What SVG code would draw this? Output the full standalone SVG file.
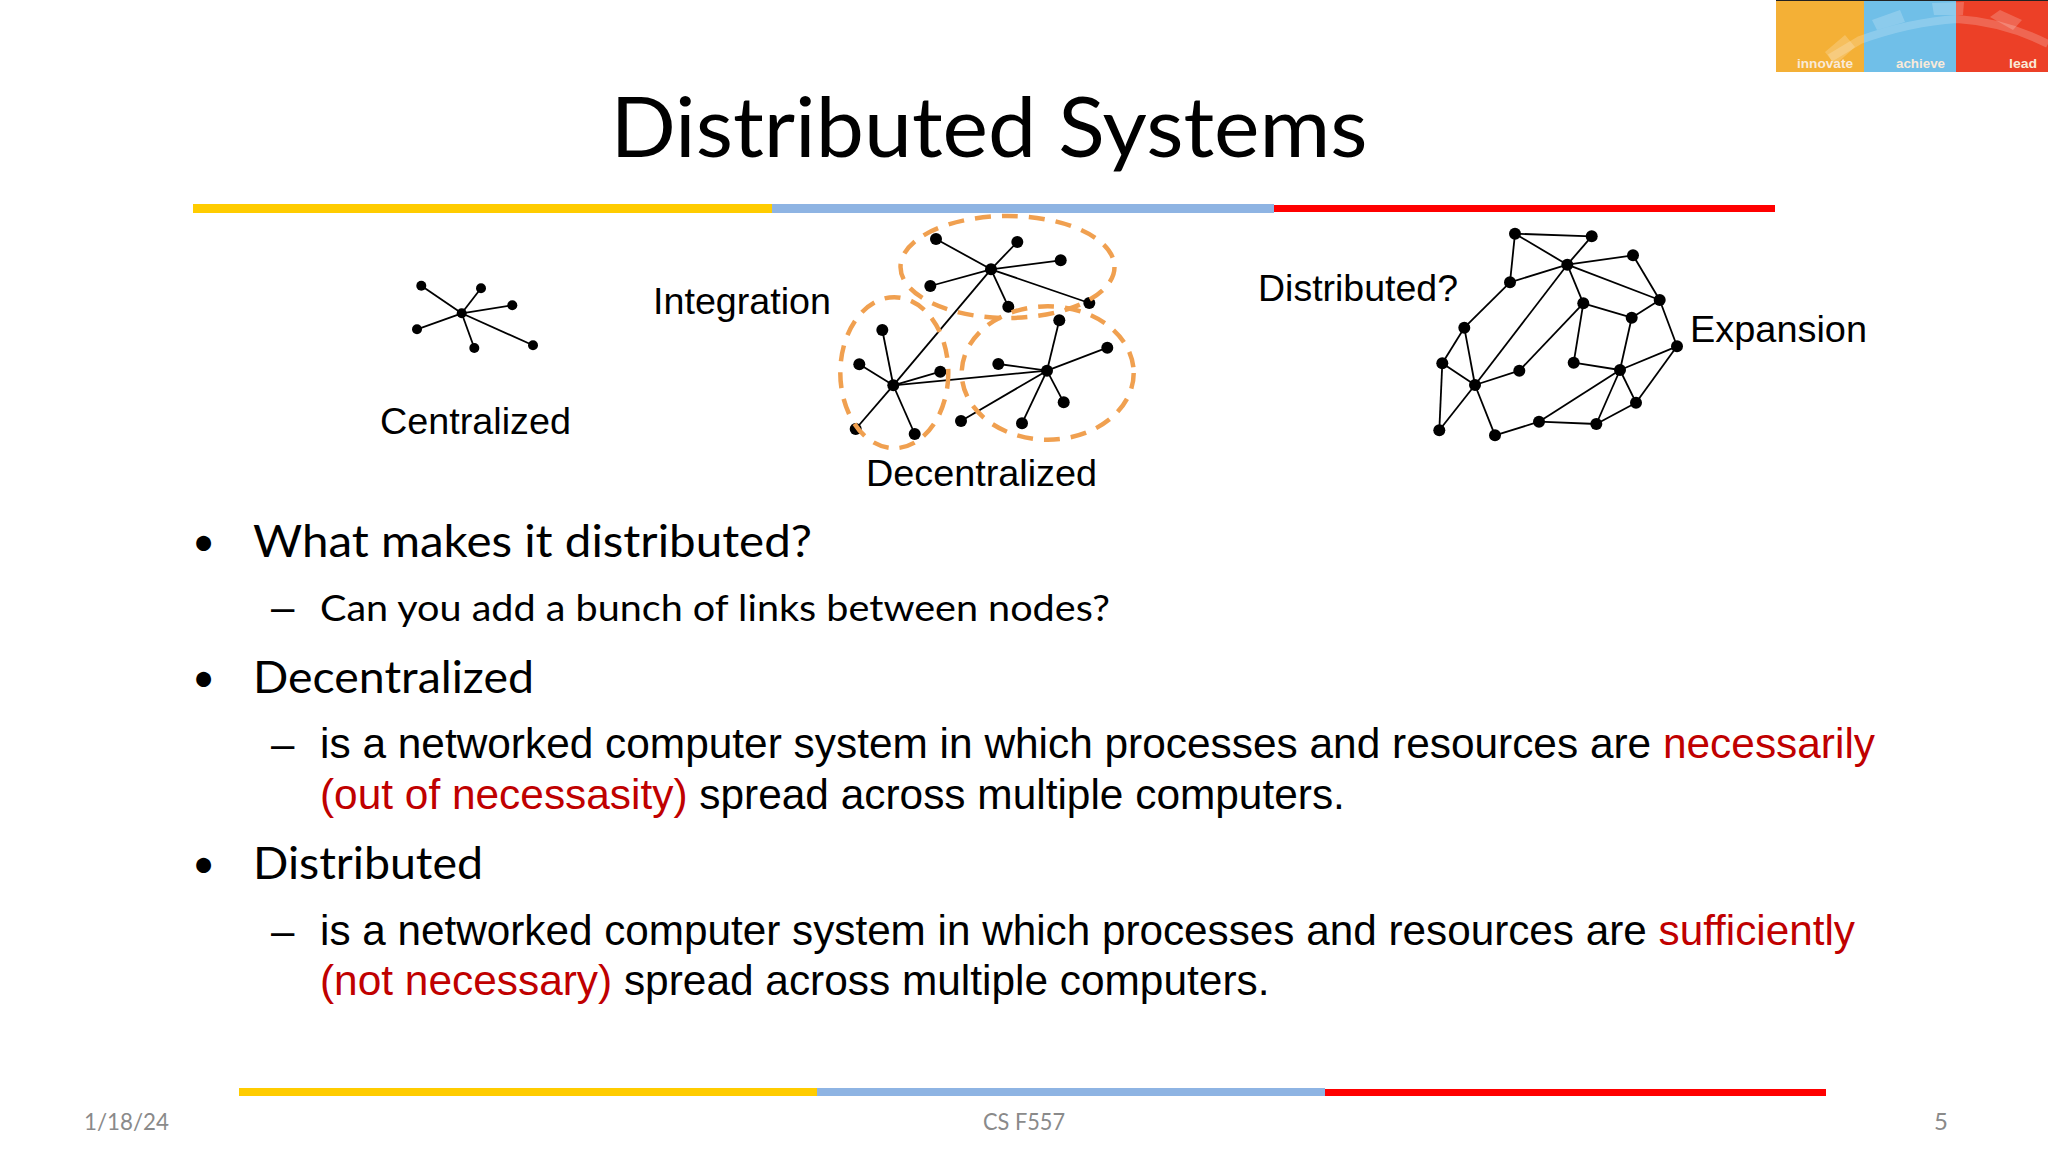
<svg xmlns="http://www.w3.org/2000/svg" width="2048" height="1152" viewBox="0 0 2048 1152">
<style>
.h{font-family:Lato,"Open Sans","Noto Sans",sans-serif;fill:#000}
.a{font-family:"Liberation Sans",Arial,sans-serif;fill:#000}
.r{fill:#c00000}
.f{font-family:Lato,"Open Sans",sans-serif;fill:#8a8a8a;font-size:24px}
.w{font-family:"Liberation Sans",Arial,sans-serif;font-weight:700;font-size:12px;fill:#f9ead9}
.e line{stroke:#000;stroke-width:1.8}
.n circle{fill:#000}
.d{fill:none;stroke:#f0a050;stroke-width:4.5;stroke-dasharray:16 11}
</style>
<defs><clipPath id="lc"><rect x="1776" y="0" width="272" height="72"/></clipPath></defs>
<rect width="2048" height="1152" fill="#fff"/>
<g id="logo">
<rect x="1776" y="0" width="88" height="72" fill="#f4b036"/>
<rect x="1864" y="0" width="92" height="72" fill="#70bfe8"/>
<rect x="1956" y="0" width="92" height="72" fill="#ec4027"/>
<g clip-path="url(#lc)" fill="#fff" fill-opacity=".2">
<path d="M1830 58L1860 40Q1910 22 1957 19Q2005 22 2048 44" fill="none" stroke="#fff" stroke-opacity=".2" stroke-width="8"/>
<polygon points="1825,52 1845,35 1855,47 1835,65"/>
<polygon points="1872,20 1900,10 1905,22 1877,30"/>
<polygon points="1932,3 1964,2 1963,15 1934,15"/>
<polygon points="1990,17 2000,10 2022,20 2013,30"/>
</g>
<rect x="1776" y="0" width="272" height="1" fill="#222"/>
<text class="w" x="1797" y="68" textLength="56" lengthAdjust="spacingAndGlyphs">innovate</text>
<text class="w" x="1896" y="68" textLength="49" lengthAdjust="spacingAndGlyphs">achieve</text>
<text class="w" x="2009" y="68" textLength="28" lengthAdjust="spacingAndGlyphs">lead</text>
</g>
<text class="h" x="610.5" y="157" font-size="84" textLength="757" lengthAdjust="spacingAndGlyphs">Distributed Systems</text>
<g id="rule-top"><rect x="193" y="204" width="579" height="9" fill="#ffcc00"/><rect x="772" y="204" width="502" height="9" fill="#8eb4e3"/><rect x="1274" y="205" width="501" height="7" fill="#ff0000"/></g>
<g id="rule-bottom"><rect x="239" y="1088" width="578" height="8" fill="#ffcc00"/><rect x="817" y="1088" width="508" height="8" fill="#8eb4e3"/><rect x="1325" y="1089" width="501" height="7" fill="#ff0000"/></g>

<g id="connectors" class="e">
<g id="c-centralized">
<line x1="461.7" y1="313.3" x2="421.3" y2="285.7"/><line x1="461.7" y1="313.3" x2="481" y2="288.3"/><line x1="461.7" y1="313.3" x2="512.3" y2="305.3"/><line x1="461.7" y1="313.3" x2="533" y2="345.3"/><line x1="461.7" y1="313.3" x2="474.3" y2="348"/><line x1="461.7" y1="313.3" x2="417" y2="329.3"/>
</g>
<g id="c-decentralized">
<line x1="991" y1="269.3" x2="936" y2="239"/><line x1="991" y1="269.3" x2="1017.3" y2="242"/><line x1="991" y1="269.3" x2="1060.7" y2="260.3"/><line x1="991" y1="269.3" x2="1089.3" y2="303"/><line x1="991" y1="269.3" x2="1008.3" y2="306.7"/><line x1="991" y1="269.3" x2="930.3" y2="286"/>
<line x1="991" y1="269.3" x2="893.3" y2="385.3"/><line x1="893.3" y1="385.3" x2="1047" y2="370.7"/>
<line x1="893.3" y1="385.3" x2="882.3" y2="330"/><line x1="893.3" y1="385.3" x2="859.3" y2="364.3"/><line x1="893.3" y1="385.3" x2="940.3" y2="371.7"/><line x1="893.3" y1="385.3" x2="914.7" y2="434"/><line x1="893.3" y1="385.3" x2="855.7" y2="429"/>
<line x1="1047" y1="370.7" x2="1059.3" y2="320.3"/><line x1="1047" y1="370.7" x2="1107.3" y2="347.7"/><line x1="1047" y1="370.7" x2="998.3" y2="364"/><line x1="1047" y1="370.7" x2="1063.7" y2="402.3"/><line x1="1047" y1="370.7" x2="1022" y2="423.3"/><line x1="1047" y1="370.7" x2="961" y2="421"/>
</g>
<g id="c-distributed">
<line x1="1515" y1="233.7" x2="1591.7" y2="236.3"/><line x1="1515" y1="233.7" x2="1567.3" y2="264.7"/><line x1="1591.7" y1="236.3" x2="1567.3" y2="264.7"/><line x1="1515" y1="233.7" x2="1510" y2="282.3"/><line x1="1510" y1="282.3" x2="1567.3" y2="264.7"/><line x1="1567.3" y1="264.7" x2="1633" y2="255.3"/><line x1="1633" y1="255.3" x2="1659.7" y2="300"/><line x1="1567.3" y1="264.7" x2="1659.7" y2="300"/><line x1="1567.3" y1="264.7" x2="1583.3" y2="303.3"/><line x1="1583.3" y1="303.3" x2="1631.7" y2="317.7"/><line x1="1631.7" y1="317.7" x2="1659.7" y2="300"/><line x1="1659.7" y1="300" x2="1677" y2="346.3"/><line x1="1583.3" y1="303.3" x2="1573.7" y2="362.7"/><line x1="1631.7" y1="317.7" x2="1620" y2="370"/><line x1="1573.7" y1="362.7" x2="1620" y2="370"/><line x1="1620" y1="370" x2="1677" y2="346.3"/><line x1="1677" y1="346.3" x2="1636" y2="402.7"/><line x1="1620" y1="370" x2="1636" y2="402.7"/><line x1="1620" y1="370" x2="1596.3" y2="424"/><line x1="1636" y1="402.7" x2="1596.3" y2="424"/><line x1="1620" y1="370" x2="1539" y2="421.7"/><line x1="1539" y1="421.7" x2="1596.3" y2="424"/><line x1="1539" y1="421.7" x2="1495" y2="435.3"/><line x1="1495" y1="435.3" x2="1475" y2="385"/><line x1="1475" y1="385" x2="1567.3" y2="264.7"/><line x1="1475" y1="385" x2="1519.3" y2="370.7"/><line x1="1519.3" y1="370.7" x2="1583.3" y2="303.3"/><line x1="1475" y1="385" x2="1464.3" y2="327.7"/><line x1="1475" y1="385" x2="1442.3" y2="363.3"/><line x1="1475" y1="385" x2="1439.3" y2="430.3"/><line x1="1442.3" y1="363.3" x2="1464.3" y2="327.7"/><line x1="1442.3" y1="363.3" x2="1439.3" y2="430.3"/><line x1="1464.3" y1="327.7" x2="1510" y2="282.3"/>
</g>
</g>

<g id="nodes" class="n">
<g id="net-centralized">
<circle cx="461.7" cy="313.3" r="5"/><circle cx="421.3" cy="285.7" r="5"/><circle cx="481" cy="288.3" r="5"/><circle cx="512.3" cy="305.3" r="5"/><circle cx="533" cy="345.3" r="5"/><circle cx="474.3" cy="348" r="5"/><circle cx="417" cy="329.3" r="5"/>
</g>
<g id="net-decentralized">
<circle cx="991" cy="269.3" r="6"/><circle cx="936" cy="239" r="6"/><circle cx="1017.3" cy="242" r="6"/><circle cx="1060.7" cy="260.3" r="6"/><circle cx="1089.3" cy="303" r="6"/><circle cx="1008.3" cy="306.7" r="6"/><circle cx="930.3" cy="286" r="6"/>
<circle cx="893.3" cy="385.3" r="6"/><circle cx="882.3" cy="330" r="6"/><circle cx="859.3" cy="364.3" r="6"/><circle cx="940.3" cy="371.7" r="6"/><circle cx="914.7" cy="434" r="6"/><circle cx="855.7" cy="429" r="6"/>
<circle cx="1047" cy="370.7" r="6"/><circle cx="1059.3" cy="320.3" r="6"/><circle cx="1107.3" cy="347.7" r="6"/><circle cx="998.3" cy="364" r="6"/><circle cx="1063.7" cy="402.3" r="6"/><circle cx="1022" cy="423.3" r="6"/><circle cx="961" cy="421" r="6"/>
<ellipse class="d" cx="1007.5" cy="267" rx="107" ry="51"/>
<ellipse class="d" cx="894.3" cy="372.7" rx="54" ry="75.5"/>
<ellipse class="d" cx="1047.7" cy="373" rx="86" ry="66.7"/>
</g>
<g id="net-distributed">
<circle cx="1515" cy="233.7" r="6"/><circle cx="1591.7" cy="236.3" r="6"/><circle cx="1567.3" cy="264.7" r="6"/><circle cx="1633" cy="255.3" r="6"/><circle cx="1510" cy="282.3" r="6"/><circle cx="1583.3" cy="303.3" r="6"/><circle cx="1659.7" cy="300" r="6"/><circle cx="1631.7" cy="317.7" r="6"/><circle cx="1464.3" cy="327.7" r="6"/><circle cx="1677" cy="346.3" r="6"/><circle cx="1442.3" cy="363.3" r="6"/><circle cx="1573.7" cy="362.7" r="6"/><circle cx="1620" cy="370" r="6"/><circle cx="1519.3" cy="370.7" r="6"/><circle cx="1475" cy="385" r="6"/><circle cx="1636" cy="402.7" r="6"/><circle cx="1539" cy="421.7" r="6"/><circle cx="1596.3" cy="424" r="6"/><circle cx="1495" cy="435.3" r="6"/><circle cx="1439.3" cy="430.3" r="6"/>
</g>
</g>

<g id="diagram-labels" class="a" font-size="37">
<text class="a" x="380" y="434" textLength="191" lengthAdjust="spacingAndGlyphs">Centralized</text>
<text class="a" x="653" y="314" textLength="178" lengthAdjust="spacingAndGlyphs">Integration</text>
<text class="a" x="866" y="486" textLength="231" lengthAdjust="spacingAndGlyphs">Decentralized</text>
<text class="a" x="1258" y="301" textLength="200" lengthAdjust="spacingAndGlyphs">Distributed?</text>
<text class="a" x="1690" y="342" textLength="177" lengthAdjust="spacingAndGlyphs">Expansion</text>
</g>

<g id="body">
<text class="h" x="192" y="556" font-size="40">•</text>
<text class="h" x="253" y="557" font-size="44" textLength="559" lengthAdjust="spacingAndGlyphs">What makes it distributed?</text>
<text class="a" x="271" y="621" font-size="42">–</text>
<text class="h" x="320" y="621" font-size="36" textLength="790" lengthAdjust="spacingAndGlyphs">Can you add a bunch of links between nodes?</text>
<text class="h" x="192" y="692" font-size="40">•</text>
<text class="h" x="253" y="693" font-size="44" textLength="281" lengthAdjust="spacingAndGlyphs">Decentralized</text>
<text class="a" x="271" y="758" font-size="42">–</text>
<text class="a" x="320" y="758" font-size="42.4">is a networked computer system in which processes and resources are <tspan class="r">necessarily</tspan></text>
<text class="a" x="320" y="809" font-size="42.4"><tspan class="r">(out of necessasity)</tspan> spread across multiple computers.</text>
<text class="h" x="192" y="878" font-size="40">•</text>
<text class="h" x="253" y="879" font-size="44" textLength="230" lengthAdjust="spacingAndGlyphs">Distributed</text>
<text class="a" x="271" y="945" font-size="42">–</text>
<text class="a" x="320" y="945" font-size="42.25">is a networked computer system in which processes and resources are <tspan class="r">sufficiently</tspan></text>
<text class="a" x="320" y="995" font-size="42.4"><tspan class="r">(not necessary)</tspan> spread across multiple computers.</text>
</g>
<g id="footer">
<text class="f" x="84" y="1130" textLength="85" lengthAdjust="spacingAndGlyphs">1/18/24</text>
<text class="f" x="983" y="1130" textLength="82" lengthAdjust="spacingAndGlyphs">CS F557</text>
<text class="f" x="1934" y="1130">5</text>
</g>
</svg>
